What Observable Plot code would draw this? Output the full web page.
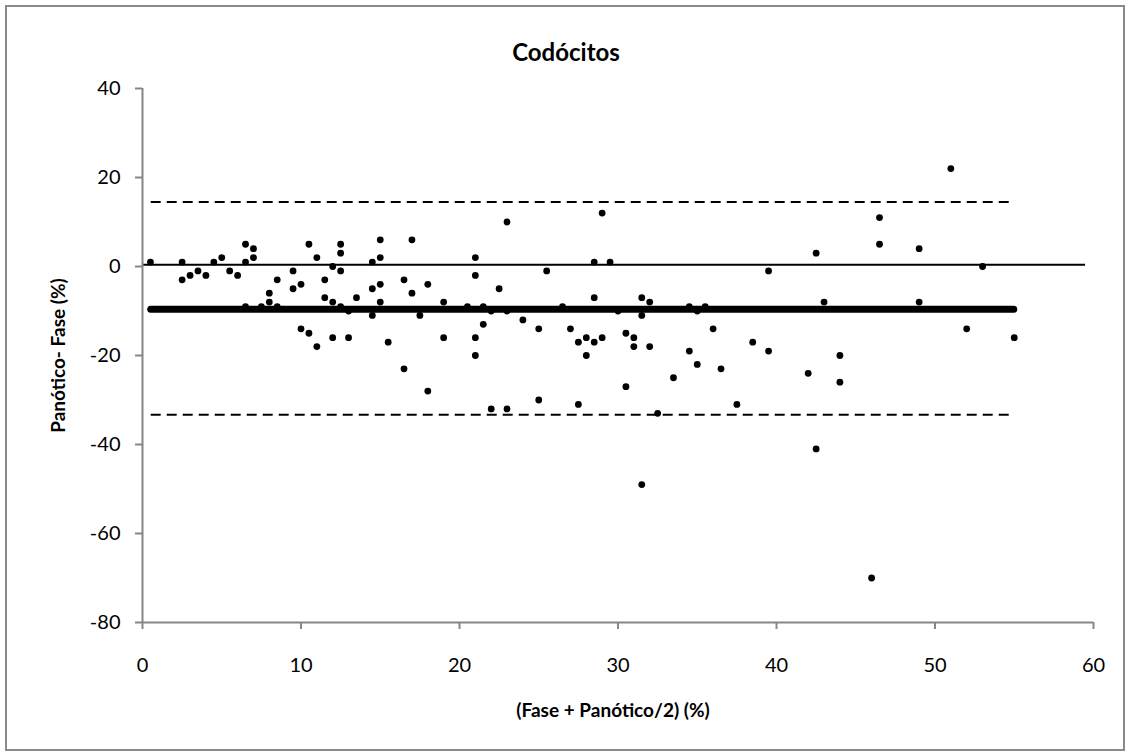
<!DOCTYPE html>
<html><head><meta charset="utf-8">
<script src="https://cdn.jsdelivr.net/npm/d3@7"></script>
<script src="https://cdn.jsdelivr.net/npm/@observablehq/plot@0.6"></script>
<style>
body{margin:0;background:#fff}
#wrap{position:relative;width:1129px;height:755px;overflow:hidden}
#border{position:absolute;left:5px;top:5px;width:1116px;height:742px;border:2px solid #8a8a8a;pointer-events:none}
svg{font-family:Lato,"Open Sans",sans-serif}
</style>
</head><body><div id="wrap"><div id="border"></div></div>
<script>
// Chart text
const chartTitle = "Codócitos";
const xTitle = "(Fase + Panótico/2) (%)";
const yTitle = "Panótico- Fase (%)";

// Tick values
const xTicks = [0, 10, 20, 30, 40, 50, 60];
const yTicks = [40, 20, 0, -20, -40, -60, -80];

// Observations: mean of the two methods (x) and difference (y)
const meanVals = [
  0.5,2.5,2.5,3,3.5,4,4.5,5,5.5,6,6.5,6.5,7,7,6.5,7.5,8,8,8.5,8.5,
  9.5,9.5,10,10,10.5,10.5,11,11,11.5,11.5,12,12,12,12.5,12.5,12.5,12.5,13,13,13.5,
  14.5,14.5,14.5,15,15,15,15,15.5,16.5,16.5,17,17,17.5,18,18,19,19,
  20.5,21,21,21,21,21.5,21.5,22,22,22.5,23,23,23,24,25,25,25.5,26.5,27,27.5,27.5,
  28,28,28.5,28.5,28.5,29,29,29.5,30,30.5,30.5,31,31,31.5,31.5,32,32,32.5,33.5,
  34.5,34.5,35,35,35.5,36,36.5,37.5,38.5,39.5,39.5,
  42,42.5,43,44,44,46.5,46.5,49,49,51,52,53,55,
  31.5,42.5,46
];
const diffVals = [
  1,1,-3,-2,-1,-2,1,2,-1,-2,5,1,4,2,-9,-9,-6,-8,-3,-9,
  -1,-5,-4,-14,5,-15,2,-18,-3,-7,0,-8,-16,5,3,-1,-9,-10,-16,-7,
  1,-5,-11,6,2,-4,-8,-17,-3,-23,6,-6,-11,-4,-28,-8,-16,
  -9,2,-2,-16,-20,-9,-13,-10,-32,-5,10,-10,-32,-12,-14,-30,-1,-9,-14,-17,-31,
  -16,-20,1,-7,-17,12,-16,1,-10,-15,-27,-16,-18,-7,-11,-8,-18,-33,-25,
  -9,-19,-10,-22,-9,-14,-23,-31,-17,-1,-19,
  -24,3,-8,-20,-26,11,5,4,-8,22,-14,0,-16,
  -49,-41,-70
];

// Reference lines: bias, limits of agreement, zero line
const biasLine = [{y: -9.6, x1: 0.55, x2: 55}];
const limitLines = [{y: 14.5, x1: 0.55, x2: 55}, {y: -33.3, x1: 0.55, x2: 55}];
const zeroLine = [{y: 0.4, x1: 0, x2: 59.5}];

const points = meanVals.map((m, i) => ({x: m, y: diffVals[i]}));
const axisGray = "#868686";

const chart = Plot.plot({
  width: 1129, height: 755,
  marginLeft: 142, marginRight: 36, marginTop: 88, marginBottom: 133,
  style: {fontFamily: "Lato, 'Open Sans', sans-serif", background: "transparent"},
  x: {domain: [0, 60]},
  y: {domain: [-80, 40]},
  marks: [
    Plot.ruleY(zeroLine, {y: "y", x1: "x1", x2: "x2", stroke: "#000", strokeWidth: 2}),
    Plot.ruleY(limitLines, {y: "y", x1: "x1", x2: "x2", stroke: "#000", strokeWidth: 2, strokeDasharray: "10,6"}),
    Plot.ruleY(biasLine, {y: "y", x1: "x1", x2: "x2", stroke: "#000", strokeWidth: 7, strokeLinecap: "round"}),
    Plot.dot(points, {x: "x", y: "y", r: 3.4, fill: "#000", stroke: "none"}),
    Plot.ruleX([0], {stroke: axisGray, strokeWidth: 2}),
    Plot.ruleY([-80], {stroke: axisGray, strokeWidth: 2}),
    Plot.axisY({ticks: yTicks, tickSize: 7, tickPadding: 15, stroke: axisGray, strokeWidth: 2, fill: "#000", fontSize: 20, tickFormat: d => String(d), label: null}),
    Plot.axisX({ticks: xTicks, tickSize: 7, tickPadding: 28, stroke: axisGray, strokeWidth: 2, fill: "#000", fontSize: 20, tickFormat: d => String(d), label: null}),
    Plot.text([chartTitle], {frameAnchor: "top", dx: -52, dy: -45, text: d => d, fontSize: 24, fontWeight: "bold", fill: "#000"}),
    Plot.text([xTitle], {frameAnchor: "bottom", dx: -5, dy: 94, text: d => d, fontSize: 19, fontWeight: "bold", fill: "#000"}),
    Plot.text([yTitle], {frameAnchor: "left", dx: -84, rotate: -90, textAnchor: "middle", text: d => d, fontSize: 19, fontWeight: "bold", fill: "#000"})
  ]
});
document.getElementById("wrap").append(chart);
</script></body></html>
